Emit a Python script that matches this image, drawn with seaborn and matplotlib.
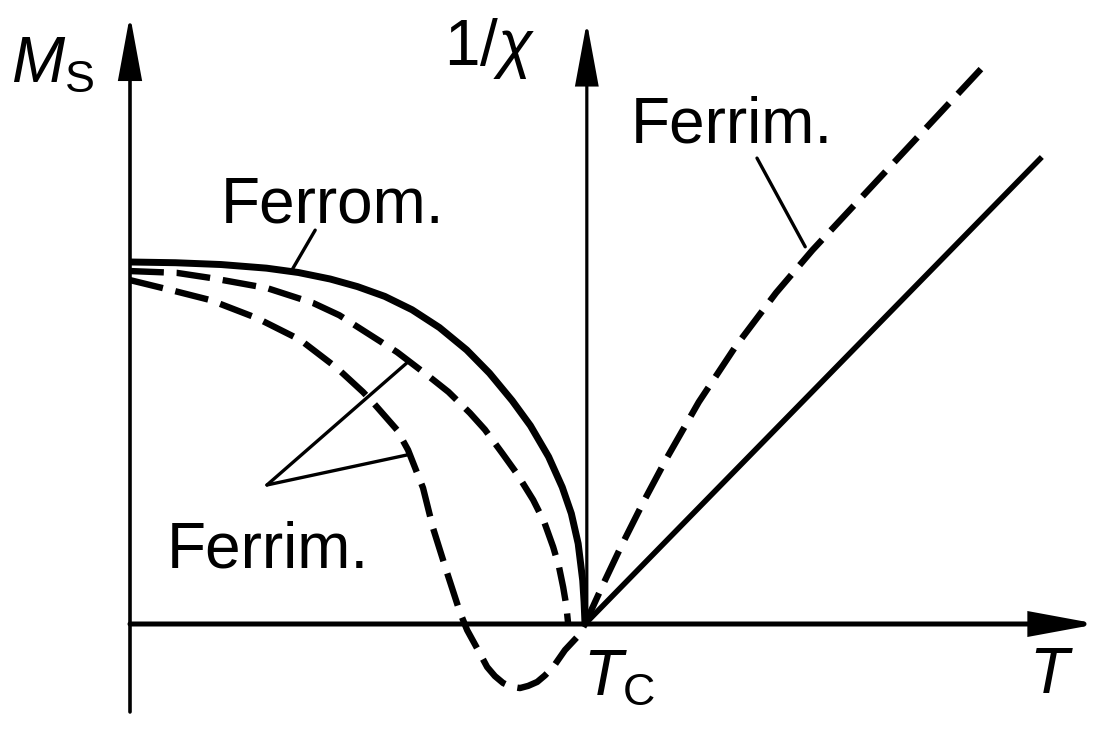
import matplotlib
matplotlib.use("Agg")
import matplotlib.pyplot as plt
import seaborn as sns
import pandas as pd

# Spontaneous magnetisation below T_C (T in units of T_C, M_S in units of M_S(0))
ferro_T = [0.0, 0.10, 0.20, 0.30, 0.37, 0.44, 0.50, 0.56, 0.62, 0.68, 0.74, 0.79,
           0.84, 0.88, 0.92, 0.95, 0.97, 0.985, 0.995, 0.998, 1.0]
ferro_M = [1.0, 0.998, 0.993, 0.983, 0.971, 0.953, 0.932, 0.905, 0.868, 0.819, 0.757, 0.693,
           0.617, 0.548, 0.462, 0.378, 0.305, 0.222, 0.120, 0.060, 0.0]

ferri_a_T = [0.0, 0.103, 0.182, 0.301, 0.402, 0.46, 0.521, 0.587, 0.659, 0.70, 0.747,
             0.78, 0.818, 0.85, 0.886, 0.91, 0.930, 0.943, 0.952, 0.959, 0.963]
ferri_a_M = [0.975, 0.970, 0.955, 0.928, 0.887, 0.853, 0.804, 0.751, 0.682, 0.641, 0.583,
             0.537, 0.472, 0.416, 0.343, 0.283, 0.213, 0.157, 0.102, 0.050, 0.0]

# Ferrimagnet with a compensation point (sign reversal)
ferri_b_T = [0.0, 0.088, 0.176, 0.279, 0.374, 0.455, 0.512, 0.534, 0.587, 0.611,
             0.644, 0.666, 0.697, 0.725, 0.741, 0.765, 0.785, 0.802, 0.820, 0.837,
             0.857, 0.875, 0.895, 0.912, 0.930, 0.956, 0.985, 1.0]
ferri_b_M = [0.950, 0.923, 0.895, 0.845, 0.785, 0.707, 0.641, 0.612, 0.536, 0.481,
             0.376, 0.265, 0.141, 0.033, -0.017, -0.072, -0.119, -0.144, -0.163, -0.173,
             -0.177, -0.171, -0.160, -0.142, -0.119, -0.072, -0.033, 0.0]

# Inverse susceptibility above T_C
inv_ferro_T = [1.0, 2.004]
inv_ferro_chi = [0.0, 1.290]

inv_ferri_T = [1.0, 1.04, 1.08, 1.13, 1.18, 1.25, 1.33, 1.42, 1.50, 1.62, 1.888]
inv_ferri_chi = [0.0, 0.110, 0.216, 0.341, 0.459, 0.613, 0.765, 0.915, 1.033, 1.195, 1.557]

# Leader lines: (T0, y0, T1, y1)
leaders = [
    (0.407, 1.088, 0.356, 0.978),   # Ferrom.
    (0.301, 0.384, 0.611, 0.724),   # Ferrim. (left) -> upper dashed
    (0.301, 0.384, 0.609, 0.467),   # Ferrim. (left) -> lower dashed
    (1.378, 1.287, 1.484, 1.042),   # Ferrim. (right)
]

sns.set_theme(style="white")
plt.rcParams["font.family"] = ["Liberation Sans", "DejaVu Sans"]
plt.rcParams["mathtext.fontset"] = "custom"
plt.rcParams["mathtext.rm"] = "Liberation Sans"
plt.rcParams["mathtext.it"] = "Liberation Sans:italic"
plt.rcParams["mathtext.bf"] = "Liberation Sans:bold"

fig = plt.figure(figsize=(11.02, 7.43), dpi=100)
ax = fig.add_axes([0, 0, 1, 1])
ax.set_xlim(-130 / 455, 972 / 455)
ax.set_ylim(-119 / 362, 624 / 362)
ax.axis("off")

ink = "black"
dash = (5.3, 2.0)

def curve(T, y, lw, dashed=False):
    df = pd.DataFrame({"T": T, "y": y})
    sns.lineplot(data=df, x="T", y="y", sort=False, estimator=None,
                 color=ink, lw=lw, ax=ax, legend=False)
    l = ax.lines[-1]
    l.set_solid_capstyle("butt")
    l.set_solid_joinstyle("round")
    if dashed:
        l.set_dashes(dash)
        l.set_dash_capstyle("butt")
        l.set_dash_joinstyle("round")

curve(ferro_T, ferro_M, 5.0)
curve(ferri_a_T, ferri_a_M, 4.6, dashed=True)
curve(ferri_b_T, ferri_b_M, 4.6, dashed=True)
curve(inv_ferro_T, inv_ferro_chi, 4.0)
curve(inv_ferri_T, inv_ferri_chi, 4.6, dashed=True)

for x0, y0, x1, y1 in leaders:
    ax.plot([x0, x1], [y0, y1], color=ink, lw=2.4, solid_capstyle="round")

# Axes with long narrow arrowheads
def axis_arrow(start, tip, lw):
    ax.annotate("", xy=tip, xytext=start,
                arrowprops=dict(arrowstyle="-|>,head_length=3.9,head_width=0.72",
                                mutation_scale=10, lw=lw, color=ink,
                                shrinkA=0, shrinkB=0, joinstyle="miter"))

axis_arrow((0.0, -0.243), (0.0, 1.682), 2.6)
axis_arrow((0.0, 0.0), (2.127, 0.0), 3.6)
axis_arrow((1.004, 0.0), (1.004, 1.663), 2.3)

fs = 46
ax.text(-0.262, 1.497, r"$M_\mathrm{S}$", fontsize=fs, ha="left", va="baseline", color=ink)
ax.text(0.690, 1.544, r"$\mathrm{1/}\chi$", fontsize=fs, ha="left", va="baseline", color=ink)
ax.text(0.200, 1.108, "Ferrom.", fontsize=fs, ha="left", va="baseline", color=ink)
ax.text(1.100, 1.329, "Ferrim.", fontsize=fs, ha="left", va="baseline", color=ink)
ax.text(0.080, 0.157, "Ferrim.", fontsize=fs, ha="left", va="baseline", color=ink)
ax.text(0.995, -0.196, r"$T_\mathrm{C}$", fontsize=fs, ha="left", va="baseline", color=ink)
ax.text(1.975, -0.191, r"$T$", fontsize=fs, ha="left", va="baseline", color=ink)

fig.savefig("out.png", dpi=100, facecolor="white")
